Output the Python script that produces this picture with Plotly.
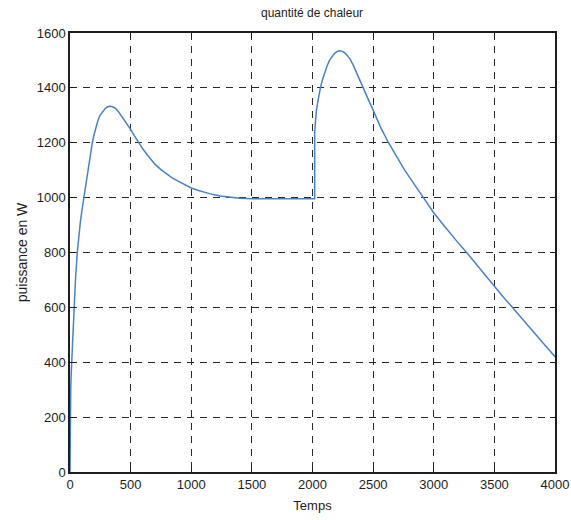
import plotly.graph_objects as go

# Heat output over time: first heating phase, plateau, second phase at t≈2018
temps = [0, 1, 2, 4, 6, 10, 14, 23, 33, 45, 60, 72, 85, 100, 115, 132, 150,
         167, 184, 200, 215, 230, 247, 268, 289, 310, 330, 352, 375, 400, 430,
         465, 500, 530, 564, 600, 630, 665, 700, 750, 800, 840, 880, 940, 1000,
         1060, 1120, 1180, 1237, 1320, 1400, 1500, 1600, 1800,
         2018, 2018, 2021, 2025, 2032, 2040, 2052, 2065, 2082, 2100, 2120, 2140,
         2160, 2180, 2200, 2220, 2240, 2260, 2285, 2310, 2335, 2360, 2390, 2418,
         2460, 2500, 2560, 2627, 2690, 2760, 2840, 2915, 3000, 3070, 3135, 3200,
         3271, 3385, 3500, 3570, 3643, 3720, 3800, 3900, 4000]
puissance = [0, 100, 200, 260, 300, 360, 400, 500, 600, 700, 800, 860, 910, 958,
             1000, 1058, 1110, 1158, 1200, 1232, 1258, 1280, 1300, 1314, 1324,
             1331, 1333, 1331, 1325, 1313, 1295, 1272, 1249, 1226, 1200, 1178,
             1160, 1140, 1122, 1102, 1085, 1073, 1063, 1048, 1035, 1026, 1018,
             1011, 1006, 1001, 998, 996, 996, 996,
             996, 1240, 1265, 1290, 1316, 1340, 1372, 1400, 1430, 1458, 1480,
             1500, 1514, 1525, 1532, 1535, 1534, 1530, 1519, 1505, 1484, 1460,
             1430, 1400, 1358, 1319, 1258, 1200, 1150, 1100, 1048, 1000, 945, 906,
             870, 836, 800, 738, 677, 640, 603, 562, 522, 471, 420]

x_ticks = [0, 500, 1000, 1500, 2000, 2500, 3000, 3500, 4000]
y_ticks = [0, 200, 400, 600, 800, 1000, 1200, 1400, 1600]

FONT = "Liberation Sans, Arial, sans-serif"
INK = "#1e1e1e"

fig = go.Figure(
    go.Scatter(
        x=temps,
        y=puissance,
        mode="lines",
        line=dict(color="#4a82c8", width=1.5),
        showlegend=False,
    )
)

axis_common = dict(
    showline=True,
    linecolor=INK,
    linewidth=1.5,
    mirror="ticks",
    ticks="inside",
    ticklen=5,
    tickcolor=INK,
    showgrid=True,
    gridcolor="#2a2a2a",
    gridwidth=1,
    griddash="7px,6px",
    zeroline=False,
    automargin=False,
    tickfont=dict(family=FONT, size=13, color=INK),
)

fig.update_xaxes(
    range=[0, 4000],
    tickvals=x_ticks,
    title=dict(text="Temps", font=dict(family=FONT, size=13, color=INK), standoff=10),
    **axis_common,
)
fig.update_yaxes(
    range=[0, 1600],
    tickvals=y_ticks,
    title=dict(text="puissance en W", font=dict(family=FONT, size=14, color=INK), standoff=6),
    **axis_common,
)

fig.update_layout(
    width=571,
    height=520,
    margin=dict(l=70, r=16, t=33, b=48),
    paper_bgcolor="white",
    plot_bgcolor="white",
    title=dict(
        text="quantité de chaleur",
        font=dict(family=FONT, size=12, color=INK),
        x=0.5465,
        xanchor="center",
        y=1 - 13 / 520,
        yanchor="middle",
        yref="container",
    ),
)

fig.write_html("out.html")
